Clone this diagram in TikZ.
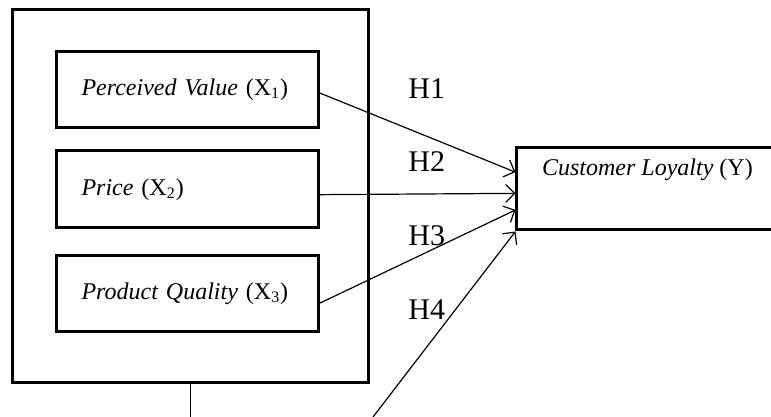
\documentclass[tikz,border=0pt]{standalone}
\usepackage{fontspec}
\setmainfont{Liberation Serif}
\usetikzlibrary{positioning,arrows.meta}
\begin{document}
\begin{tikzpicture}[
    font=\fontsize{12}{14}\selectfont,
    >={Straight Barb[length=4.5pt,width=9pt]},
    frame/.style={
        draw,
        line width=1.5pt
    },
    varbox/.style={
        frame,
        minimum width=4.587cm,
        minimum height=1.353cm,
        text width=106pt,
        inner xsep=12pt,
        align=left
    },
    link/.style={->,line width=0.6pt},
    hyp/.style={font=\fontsize{15}{17}\selectfont,anchor=west,inner sep=0pt}
]
    \path[use as bounding box,clip] (0,0) rectangle (13.549,7.328);

    \node[frame,minimum width=6.256cm,minimum height=6.555cm] (outer) at (3.356,3.875) {};
    \node[varbox] (value) at (3.295,5.755)
        {\textit{Perceived Value} (X\textsubscript{1})};
    \node[varbox] (price) at (3.295,3.998)
        {\textit{Price} (X\textsubscript{2})};
    \node[varbox] (quality) at (3.295,2.170)
        {\textit{Product Quality} (X\textsubscript{3})};

    \node[frame,minimum width=5.272cm,minimum height=1.441cm] (loyalty) at (11.721,4.007) {};
    \node[anchor=north] (loyaltytext) at ([xshift=66pt,yshift=-2.5pt]loyalty.north west)
        {\textit{Customer Loyalty} (Y)};

    \node[hyp] (h1) at (7.170,5.773) {H1};
    \node[hyp] (h2) at (7.170,4.481) {H2};
    \node[hyp] (h3) at (7.170,3.181) {H3};
    \node[hyp] (h4) at (7.170,1.880) {H4};

    \coordinate (modline) at (3.356,0);
    \coordinate (modarrow) at (6.555,0);

    \draw[link] ([yshift=-1.7pt]value.east) -- ([yshift=8.4pt]loyalty.west);
    \draw[link] ([yshift=-2.6pt]price.east) -- ([yshift=-2.2pt]loyalty.west);
    \draw[link] ([yshift=-4.9pt]quality.east) -- ([yshift=-10.5pt]loyalty.west);
    \draw[link] (modarrow) -- (loyalty.south west);
    \draw[line width=0.5pt] (outer.south) -- (modline);
\end{tikzpicture}
\end{document}
